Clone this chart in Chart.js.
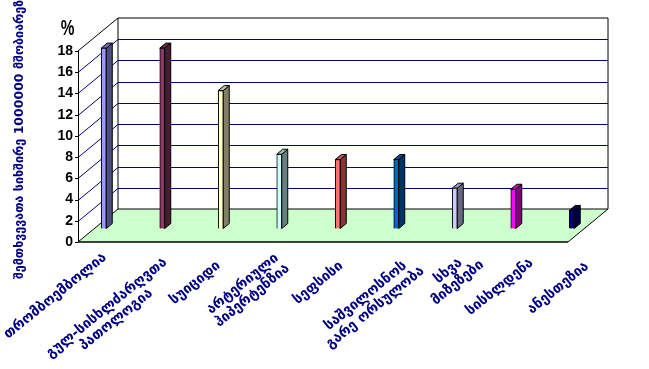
<!DOCTYPE html>
<html><head><meta charset="utf-8">
<style>html,body{margin:0;padding:0;background:#fff}canvas{display:block}</style>
<script src="https://cdn.jsdelivr.net/npm/chart.js@4"></script></head>
<body><canvas id="c" width="649" height="369"></canvas>
<script>
const categories = [["თრომბოემბოლია"],["გულ-სისხლძარღვთა","პათოლოგია"],["სუიციდი"],["არტერიული","ჰიპერტენზია"],["სეფსისი"],["საშვილოსნოს","გარე ორსულობა"],["სხვა","მიზეზები"],["სისხლდენა"],["ანესთეზია"]];
const values = [17.0,17.0,13.0,7.0,6.5,6.5,3.8,3.7,1.7];
const faceColors = ["#9999FF","#993366","#FFFFCC","#CCFFFF","#FF7070","#0066CC","#CCCCFF","#FF00FF","#000080"];
const sideColors = ["#4D4D80","#4D1A33","#808066","#668080","#803838","#003366","#666680","#800080","#000040"];
const topColors = ["#7373BF","#73264D","#BFBF99","#99BFBF","#BF5454","#004D99","#9999BF","#BF00BF","#000060"];
const yTicks = [0,2,4,6,8,10,12,14,16,18];
const yTitle = "შემთხვევათა სიხშირე 1000000 მშობიარეზე";
const unit = "%";
const labelShiftX = [-52,-59,-29,-40,-23,-34,-10,-17,-17];
const labelCenterY = [296,308,283,284,283,296,271,287,288];
const NAVY = "#000080";
const GEO = "'DejaVu Sans'";
const depth = {dx:40, dy:-33, barDx:-3.5, barDy:-13.5, sideDx:6, sideDy:-5, frontW:490};

const scene = {
  id:'scene',
  beforeDatasetsDraw(chart){
    const {ctx, scales:{y}, chartArea:a} = chart;
    const x0=a.left, x1=a.left+depth.frontW, b=y.getPixelForValue(0), t=y.getPixelForValue(18);
    const bx0=x0+depth.dx, bx1=x1+depth.dx, bb=b+depth.dy, bt=t+depth.dy;
    ctx.save();
    ctx.fillStyle="#CCFFCC";
    ctx.beginPath();ctx.moveTo(x0,b);ctx.lineTo(x1,b);ctx.lineTo(bx1,bb);ctx.lineTo(bx0,bb);ctx.closePath();ctx.fill();
    ctx.lineWidth=1;ctx.strokeStyle=NAVY;
    yTicks.forEach(v=>{
      if(v===0||v===18)return;
      const p=Math.round(y.getPixelForValue(v))+.5;
      ctx.beginPath();ctx.moveTo(x0,p);ctx.lineTo(bx0,p+depth.dy);ctx.lineTo(bx1,p+depth.dy);ctx.stroke();
    });
    ctx.strokeStyle="#000";
    ctx.beginPath();
    ctx.moveTo(x0,t);ctx.lineTo(bx0,bt);ctx.lineTo(bx1,bt);ctx.lineTo(bx1,bb);ctx.lineTo(bx0,bb);ctx.lineTo(bx0,bt);
    ctx.moveTo(x0,b);ctx.lineTo(bx0,bb);
    ctx.moveTo(bx1,bb);ctx.lineTo(x1,b);
    ctx.stroke();
    ctx.lineWidth=1.4;
    ctx.beginPath();ctx.moveTo(x0,b);ctx.lineTo(x1,b);ctx.stroke();
    ctx.lineWidth=1;
    ctx.beginPath();ctx.moveTo(x0+.5,t);ctx.lineTo(x0+.5,b);ctx.stroke();
    yTicks.forEach(v=>{const p=Math.round(y.getPixelForValue(v))+.5;ctx.beginPath();ctx.moveTo(x0-3,p);ctx.lineTo(x0,p);ctx.stroke();});
    ctx.translate(depth.barDx,depth.barDy);
    const meta=chart.getDatasetMeta(0);
    meta.data.forEach((el,i)=>{
      const l=el.x-el.width/2, r=el.x+el.width/2, top=el.y, base=el.base, sx=depth.sideDx, sy=depth.sideDy;
      ctx.fillStyle=sideColors[i];
      ctx.beginPath();ctx.moveTo(r,top);ctx.lineTo(r+sx,top+sy);ctx.lineTo(r+sx,base+sy);ctx.lineTo(r,base);ctx.closePath();ctx.fill();ctx.stroke();
      ctx.fillStyle=topColors[i];
      ctx.beginPath();ctx.moveTo(l,top);ctx.lineTo(l+sx,top+sy);ctx.lineTo(r+sx,top+sy);ctx.lineTo(r,top);ctx.closePath();ctx.fill();ctx.stroke();
    });
    ctx.restore();
    ctx.save();
    ctx.translate(depth.barDx,depth.barDy);
  },
  afterDatasetsDraw(chart){
    const {ctx, scales:{x}} = chart;
    ctx.restore();
    ctx.save();
    ctx.fillStyle=NAVY;ctx.font="bold 14px "+GEO;ctx.textAlign="center";ctx.textBaseline="middle";
    categories.forEach((lines,i)=>{
      ctx.save();
      ctx.translate(x.getPixelForValue(i)+labelShiftX[i],labelCenterY[i]);
      ctx.rotate(-39*Math.PI/180);
      lines.forEach((s,k)=>ctx.fillText(s,0,k*15));
      ctx.restore();
    });
    ctx.save();ctx.translate(20,136);ctx.rotate(-Math.PI/2);ctx.font="bold 12.5px "+GEO;ctx.fillText(yTitle,0,0);ctx.restore();
    ctx.save();ctx.translate(67.5,29);ctx.scale(0.7,1);
    ctx.fillStyle="#000";ctx.font="bold 22px 'Liberation Sans'";ctx.fillText(unit,0,0);ctx.restore();
    ctx.restore();
  }
};

new Chart(document.getElementById('c'),{
  type:'bar',
  data:{labels:categories,datasets:[{data:values,backgroundColor:faceColors,borderColor:"#000",borderWidth:1,barThickness:5,clip:false}]},
  plugins:[scene],
  options:{
    responsive:false,animation:false,
    layout:{padding:{top:51,right:44.5,left:0,bottom:0}},
    plugins:{legend:{display:false},tooltip:{enabled:false},title:{display:false}},
    scales:{
      x:{grid:{display:false},border:{display:false},ticks:{display:false},afterFit(s){s.height=127;}},
      y:{min:0,max:18,grid:{display:false,tickLength:0},border:{display:false},
         ticks:{stepSize:2,color:"#000",padding:5,font:{family:"'Liberation Sans'",size:14,weight:'bold'}},
         afterFit(s){s.width=78;}}
    }
  }
});
</script></body></html>
